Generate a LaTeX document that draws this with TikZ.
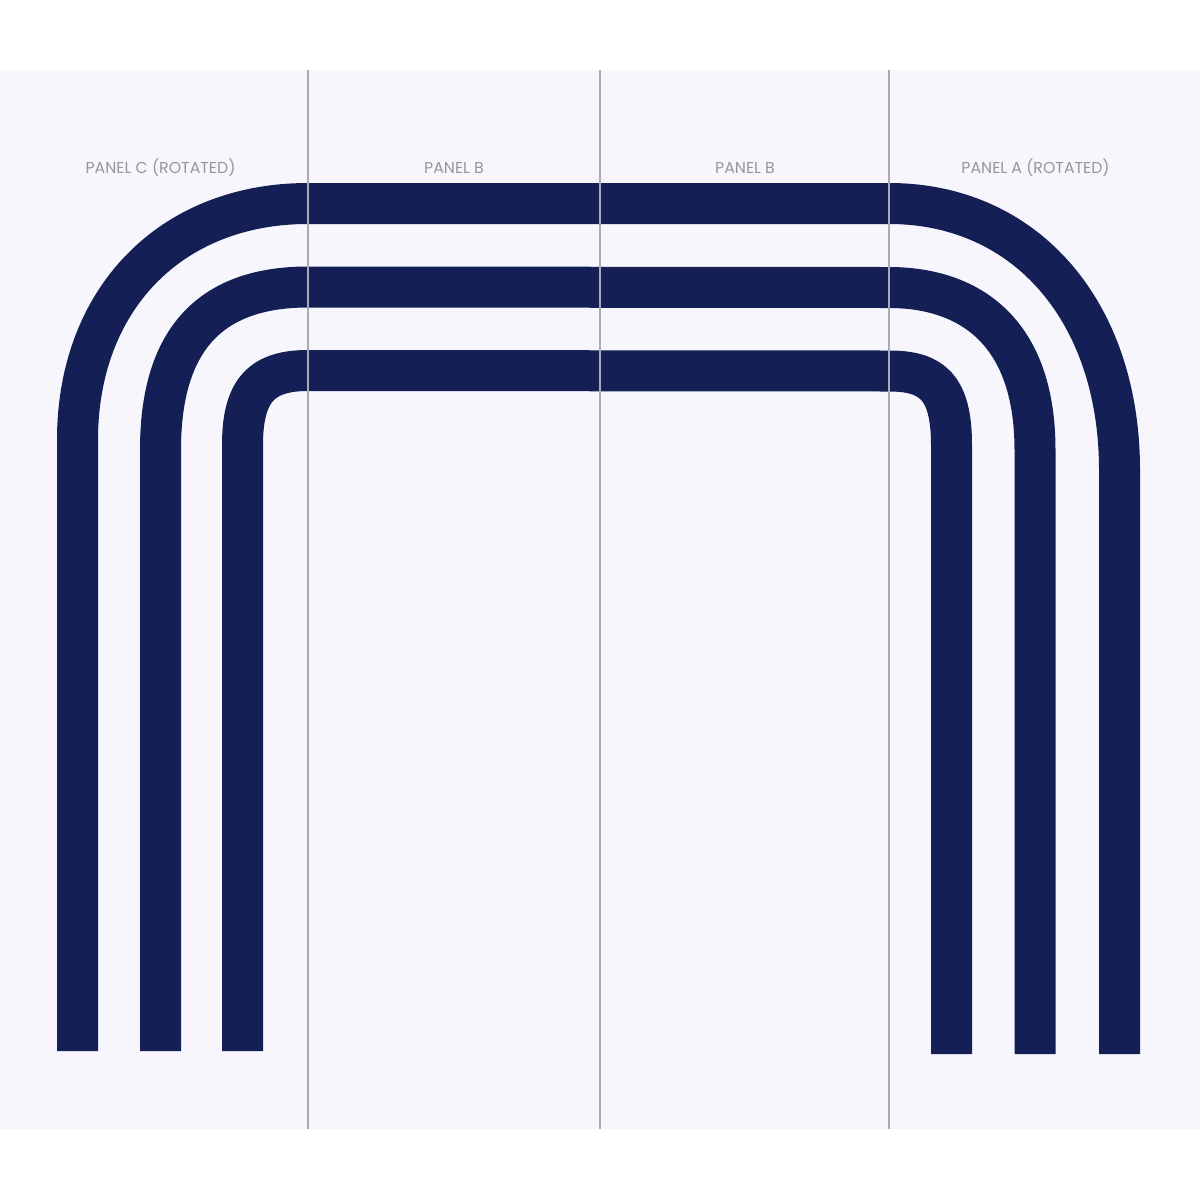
\documentclass[tikz,border=0pt]{standalone}
\usepackage{fontspec}
\setmainfont{Poppins}
\definecolor{navy}{RGB}{20,31,86}
\definecolor{panelbg}{RGB}{247,246,252}
\definecolor{lblgray}{RGB}{150,150,158}
\definecolor{divgray}{RGB}{170,170,178}
\begin{document}
\begin{tikzpicture}[x=0.5pt,y=-0.5pt,
  strand/.style={draw=navy,line width=20.5pt,line cap=butt,line join=round},
  divider/.style={draw=divgray,line width=0.7pt},
  lbl/.style={text=lblgray,font=\fontsize{7.9}{9}\selectfont,inner sep=0pt}]
\useasboundingbox (0,0) rectangle (1200,1200);
\fill[white] (0,0) rectangle (1200,1200);
\fill[panelbg] (0,70) rectangle (1200,1129);
% strands
\draw[strand] (77.5,1051) -- (77.5,440) .. controls (77.5,300) and (170,203.5) .. (308,203.5) -- (889,203.5) .. controls (1027,203.5) and (1119.5,313) .. (1119.5,470) -- (1119.5,1054);
\draw[strand] (160.5,1051) -- (160.5,450) .. controls (160.5,349) and (202,287) .. (308,287) -- (889,287.5) .. controls (966,287.5) and (1035,328) .. (1035,450) -- (1035,1054);
\draw[strand] (242.5,1051) -- (242.5,445) .. controls (242.5,390) and (262,370.5) .. (308,370.5) -- (889,371) .. controls (931,371) and (951.5,386) .. (951.5,445) -- (951.5,1054);
% dividers
\coordinate (d1t) at (308,70); \coordinate (d1b) at (308,1129);
\coordinate (d2t) at (600,70); \coordinate (d2b) at (600,1129);
\coordinate (d3t) at (889,70); \coordinate (d3b) at (889,1129);
\draw[divider] (d1t) -- (d1b);
\draw[divider] (d2t) -- (d2b);
\draw[divider] (d3t) -- (d3b);
% labels
\node[lbl] (lc) at (160.5,168) {PANEL C (ROTATED)};
\node[lbl] (lb1) at (454,168) {PANEL B};
\node[lbl] (lb2) at (745,168) {PANEL B};
\node[lbl] (la) at (1035.5,168) {PANEL A (ROTATED)};
\end{tikzpicture}
\end{document}
